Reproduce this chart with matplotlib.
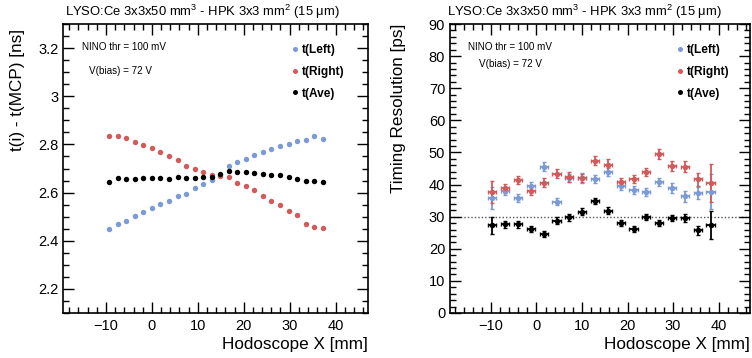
import matplotlib
matplotlib.use("Agg")
import matplotlib.pyplot as plt
from matplotlib.lines import Line2D
from matplotlib.ticker import MultipleLocator, FuncFormatter

plt.rcParams['font.family'] = ['Liberation Sans', 'DejaVu Sans']
plt.rcParams['mathtext.fontset'] = 'custom'
plt.rcParams['mathtext.rm'] = 'Liberation Sans'
plt.rcParams['mathtext.it'] = 'Liberation Sans:italic'

# ---------------- data ----------------
x_left_panel = [-9.3, -7.44, -5.58, -3.72, -1.86, 0.0, 1.86, 3.72, 5.58, 7.44, 9.3, 11.16, 13.02,
                14.88, 16.74, 18.6, 20.46, 22.32, 24.18, 26.04, 27.9, 29.76, 31.62, 33.48, 35.34, 37.2]
t_left = [2.448, 2.470, 2.484, 2.502, 2.518, 2.535, 2.551, 2.564, 2.585, 2.596, 2.619, 2.637, 2.654,
          2.672, 2.709, 2.725, 2.739, 2.754, 2.770, 2.781, 2.792, 2.803, 2.814, 2.818, 2.833, 2.823]
t_right = [2.837, 2.837, 2.825, 2.811, 2.799, 2.785, 2.768, 2.750, 2.735, 2.712, 2.699, 2.684, 2.674,
           2.669, 2.663, 2.641, 2.626, 2.610, 2.585, 2.564, 2.547, 2.525, 2.505, 2.470, 2.456, 2.454]
t_ave = [2.645, 2.659, 2.655, 2.656, 2.661, 2.662, 2.662, 2.658, 2.663, 2.659, 2.661, 2.665, 2.666,
         2.678, 2.691, 2.685, 2.684, 2.680, 2.677, 2.673, 2.672, 2.666, 2.658, 2.647, 2.647, 2.644]

x_right_panel = [-9.70, -6.88, -4.06, -1.24, 1.58, 4.40, 7.22, 10.04, 12.86, 15.68, 18.50, 21.32,
                 24.14, 26.96, 29.78, 32.60, 35.42, 38.24]
res_left = [35.8, 37.9, 35.8, 39.4, 45.6, 34.7, 42.0, 42.0, 41.7, 43.9, 39.7, 38.2, 37.7, 40.7, 38.9, 36.3, 37.4, 37.8]
res_left_err = [3.3, 1.3, 1.2, 1.3, 1.5, 1.1, 1.3, 1.5, 1.3, 1.3, 1.3, 1.2, 1.2, 1.3, 1.5, 1.6, 1.8, 5.5]
res_right = [37.7, 38.9, 41.4, 37.9, 40.5, 43.4, 42.3, 42.1, 47.4, 46.1, 40.7, 41.7, 43.9, 49.5, 45.8, 45.6, 41.7, 40.5]
res_right_err = [3.4, 1.4, 1.3, 1.3, 1.4, 1.3, 1.5, 1.3, 1.4, 1.8, 1.3, 1.3, 1.3, 1.6, 1.5, 1.7, 2.0, 5.9]
res_ave = [27.3, 27.6, 27.6, 26.2, 24.6, 28.8, 29.8, 31.6, 34.9, 31.9, 28.1, 26.2, 29.9, 28.0, 29.6, 29.6, 25.7, 27.4]
res_ave_err = [2.6, 1.0, 1.0, 1.0, 1.0, 1.0, 1.0, 1.0, 1.0, 1.2, 1.0, 1.0, 1.0, 1.0, 1.0, 1.2, 1.3, 4.4]
x_bin_err = 0.9
reference_level = 30

labels = ['t(Left)', 't(Right)', 't(Ave)']
colors = ['#7b9ad6', '#d25a5a', '#000000']
title = 'LYSO:Ce 3x3x50 mm$^{3}$ - HPK 3x3 mm$^{2}$ (15 \u03bcm)'

W, H = 752, 358
fig = plt.figure(figsize=(W / 100, H / 100), dpi=100)

def px_ax(x0, x1, y0, y1):
    return fig.add_axes([x0 / W, 1 - y1 / H, (x1 - x0) / W, (y1 - y0) / H])

axL = px_ax(63.3, 367.7, 24, 313)
axR = px_ax(450, 750, 24, 313)

def style(ax, xmaj, xmin, ymaj, ymin):
    ax.xaxis.set_major_locator(MultipleLocator(xmaj))
    ax.xaxis.set_minor_locator(MultipleLocator(xmin))
    ax.yaxis.set_major_locator(MultipleLocator(ymaj))
    ax.yaxis.set_minor_locator(MultipleLocator(ymin))
    ax.tick_params(which='both', direction='in', top=True, right=True, width=1.0, labelsize=10.5)
    ax.tick_params(which='major', length=8)
    ax.tick_params(which='minor', length=4)
    ax.tick_params(axis='x', which='major', pad=4)
    for s in ax.spines.values():
        s.set_linewidth(1.2)
    ax.yaxis.set_major_formatter(FuncFormatter(lambda v, p: ('%g' % round(v, 6)).replace('-', '\u2212')))

# ---------------- left panel ----------------
for y, c, lab in zip([t_left, t_right, t_ave], colors, labels):
    axL.plot(x_left_panel, y, 'o', color=c, ms=3.9, mec='none', label=lab)
axL.set_xlim(-19.3, 47.0)
axL.set_ylim(2.1, 3.3)
style(axL, 10, 2, 0.2, 0.05)

# ---------------- right panel ----------------
axR.axhline(reference_level, color='#555555', ls=(0, (1, 1.5)), lw=1.0, zorder=1)
for y, e, c, lab in zip([res_left, res_right, res_ave], [res_left_err, res_right_err, res_ave_err], colors, labels):
    axR.errorbar(x_right_panel, y, yerr=e, xerr=x_bin_err, fmt='o', color=c, ms=4.0, mec='none',
                 elinewidth=1.3, capsize=1.5, capthick=1.0, zorder=3)
axR.set_xlim(-19.0, 46.9)
axR.set_ylim(0, 90)
style(axR, 10, 2, 10, 2)

# ---------------- legends & texts ----------------
for ax, (x0, x1) in [(axL, (63.3, 367.7)), (axR, (450, 750))]:
    hx = 295.5 if ax is axL else 680.5
    handles = [Line2D([], [], ls='none', marker='o', color=c, ms=3.6, mec='none') for c in colors]
    ax.legend(handles, labels, loc='upper left', bbox_to_anchor=((hx - 4 - x0) / (x1 - x0), (313 - 44.5) / 289),
              frameon=False, prop={'weight': 'bold', 'size': 8.6},
              handlelength=0.6, handletextpad=0.3, labelspacing=0.8, borderpad=0, borderaxespad=0,
              numpoints=1)

fig.text(82.5 / W, 1 - 47.5 / H, 'NINO thr = 100 mV', fontsize=7.1, va='center', ha='left')
fig.text(89 / W, 1 - 71 / H, 'V(bias) = 72 V', fontsize=7.1, va='center', ha='left')
fig.text(467.5 / W, 1 - 47.5 / H, 'NINO thr = 100 mV', fontsize=7.1, va='center', ha='left')
fig.text(479 / W, 1 - 64 / H, 'V(bias) = 72 V', fontsize=7.1, va='center', ha='left')

fig.text(65 / W, 1 - 12 / H, title, fontsize=9.4, va='center', ha='left')
fig.text(447 / W, 1 - 12 / H, title, fontsize=9.4, va='center', ha='left')

fig.text(367.7 / W, 1 - 345 / H, 'Hodoscope X [mm]', fontsize=12.3, ha='right', va='center')
fig.text(750 / W, 1 - 345 / H, 'Hodoscope X [mm]', fontsize=12.3, ha='right', va='center')
fig.text(18 / W, 1 - 29 / H, 't(i) - t(MCP) [ns]', fontsize=12.3, rotation=90, ha='center', va='top')
fig.text(398 / W, 1 - 24 / H, 'Timing Resolution [ps]', fontsize=12.3, rotation=90, ha='center', va='top')

fig.savefig('out.png', dpi=100)
